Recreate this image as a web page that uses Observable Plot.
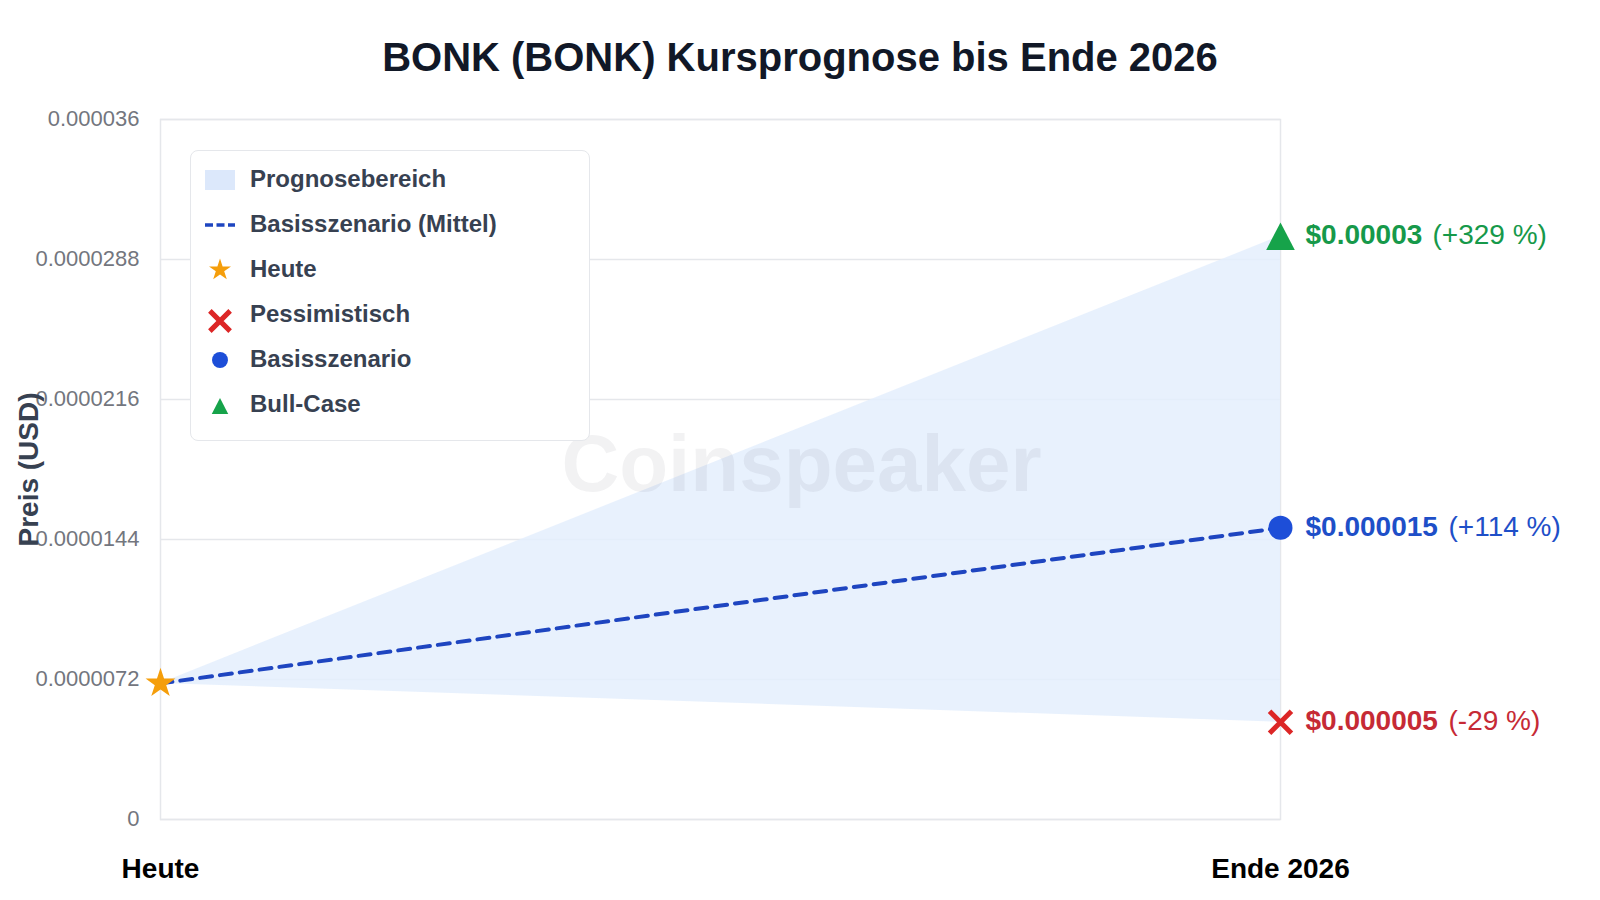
<!DOCTYPE html>
<html lang="de">
<head>
<meta charset="utf-8">
<script src="https://cdn.jsdelivr.net/npm/d3@7"></script>
<script src="https://cdn.jsdelivr.net/npm/@observablehq/plot@0.6"></script>
<style>
  html, body { margin: 0; padding: 0; background: #fff; }
  body { width: 1600px; height: 900px; position: relative; overflow: hidden; font-family: "Liberation Sans", Arial, sans-serif; }
  h1 { margin: 0; height: 100px; line-height: 114px; text-align: center; font-size: 40px; font-weight: 700; color: #111827; }
  #chart svg { display: block; overflow: visible; }
  #legend { position: absolute; left: 190px; top: 150px; width: 400px; height: 291px; box-sizing: border-box; background: #fff; border: 1.5px solid #e5e7eb; border-radius: 8px; }
  .row { position: absolute; left: 59px; font-size: 24px; font-weight: 700; color: #374151; line-height: 28px; white-space: nowrap; }
  .icon { position: absolute; }
</style>
</head>
<body>
<h1 id="title"></h1>
<div id="chart"></div>
<div id="legend"></div>
<script>
const titleText = "BONK (BONK) Kursprognose bis Ende 2026";
const yAxisTitle = "Preis (USD)";
const watermark = "Coinspeaker";
const periods = ["Heute", "Ende 2026"];
const lowValues = [0.000007, 0.000005];
const baseValues = [0.000007, 0.000015];
const highValues = [0.000007, 0.00003];
const yTicks = [0, 0.0000072, 0.0000144, 0.0000216, 0.0000288, 0.000036];
const yTickLabels = ["0", "0.0000072", "0.0000144", "0.0000216", "0.0000288", "0.000036"];
const outcomeNames = ["Pessimistisch", "Basisszenario", "Bull-Case"];
const outcomeValues = [0.000005, 0.000015, 0.00003];
const outcomePrices = ["$0.000005", "$0.000015", "$0.00003"];
const outcomeChanges = ["(-29 %)", "(+114 %)", "(+329 %)"];
const legendLabels = ["Prognosebereich", "Basisszenario (Mittel)", "Heute", "Pessimistisch", "Basisszenario", "Bull-Case"];

const colors = { line: "#1e45c0", today: "#f59e0b", bear: "#dc2626", base: "#1d4ed8", bull: "#16a34a" };
const textColors = { bear: "#c62a35", base: "#1e4fc8", bull: "#16994a" };

// Triangle centred on its bounding box, a little taller than d3's equilateral one
const boxTriangle = {
  draw(context, size) {
    const h = Math.sqrt(size / 0.96);
    const w = h * 1.04;
    context.moveTo(0, -h / 2);
    context.lineTo(w / 2, h / 2);
    context.lineTo(-w / 2, h / 2);
    context.closePath();
  }
};

const series = periods.map((period, i) => ({ period, low: lowValues[i], base: baseValues[i], high: highValues[i] }));
const outcomes = outcomeNames.map((name, i) => ({ name, period: periods[1], value: outcomeValues[i], price: outcomePrices[i], change: outcomeChanges[i] }));
const bear = outcomes[0], base = outcomes[1], bull = outcomes[2];
const today = [{ period: periods[0], value: baseValues[0] }];

document.getElementById("title").textContent = titleText;

const priceLabel = (rows, fill, dx) => [
  Plot.text(rows, { x: "period", y: "value", text: "price", fill, fontWeight: 700, fontSize: 28, textAnchor: "start", dx: 25, dy: -1 }),
  Plot.text(rows, { x: "period", y: "value", text: "change", fill, fontSize: 28, textAnchor: "start", dx, dy: -1 })
];

const chart = Plot.plot({
  width: 1600,
  height: 800,
  marginTop: 19,
  marginBottom: 81,
  marginLeft: 160,
  marginRight: 320,
  style: { fontFamily: "'Liberation Sans', Arial, sans-serif", background: "transparent", overflow: "visible" },
  x: { type: "point", domain: periods, padding: 0 },
  y: { domain: [0, 0.000036] },
  marks: [
    Plot.gridY(yTicks, { stroke: "#e5e7eb", strokeOpacity: 1, strokeWidth: 1.5 }),
    Plot.frame({ stroke: "#e5e7eb", strokeWidth: 1.5 }),
    Plot.axisY(yTicks, { tickSize: 0, tickPadding: 21, dy: -1, fontSize: 22, fill: "#73767e", label: null, tickFormat: (d, i) => yTickLabels[i] }),
    Plot.axisX({ tickSize: 0, tickPadding: 39, fontSize: 28, fontWeight: 700, fill: "#000", label: null }),
    Plot.text([yAxisTitle], { frameAnchor: "left", textAnchor: "middle", rotate: -90, dx: -131, fontSize: 28, fontWeight: 700, fill: "#374151" }),
    Plot.areaY(series, { x: "period", y1: "low", y2: "high", fill: "#e4effd", fillOpacity: 0.85 }),
    Plot.text([watermark], { frameAnchor: "middle", dx: 81, dy: -4, fontSize: 80, fontWeight: 700, fill: "#1f2937", fillOpacity: 0.06 }),
    Plot.line(series, { x: "period", y: "base", stroke: colors.line, strokeWidth: 4, strokeDasharray: "12 8" }),
    Plot.dot(today, { x: "period", y: "value", symbol: "star", r: 9.4, fill: colors.today, stroke: "none" }),
    Plot.dot([bear], { x: "period", y: "value", symbol: "times", r: 10, stroke: colors.bear, strokeWidth: 5, fill: "none" }),
    Plot.dot([base], { x: "period", y: "value", symbol: "circle", r: 12, fill: colors.base, stroke: "none" }),
    Plot.dot([bull], { x: "period", y: "value", symbol: boxTriangle, r: 15.2, fill: colors.bull, stroke: "none" }),
    ...priceLabel([bear], textColors.bear, 168),
    ...priceLabel([base], textColors.base, 168),
    ...priceLabel([bull], textColors.bull, 152)
  ]
});
document.getElementById("chart").append(chart);

// Legend: HTML box with small symbol icons
const legend = d3.select("#legend");
const rowCentres = [29, 74, 119, 164, 209, 254];
legendLabels.forEach((label, i) => {
  legend.append("div").attr("class", "row").style("top", (rowCentres[i] - 15) + "px").text(label);
});
const iconSvg = legend.append("svg").attr("class", "icon").attr("width", 60).attr("height", 289).style("left", 0).style("top", 0);
const cx = 29;
iconSvg.append("rect").attr("x", 14).attr("y", rowCentres[0] - 10).attr("width", 30).attr("height", 20).attr("fill", "#dce8fb");
iconSvg.append("line").attr("x1", 14).attr("x2", 44).attr("y1", rowCentres[1]).attr("y2", rowCentres[1]).attr("stroke", colors.line).attr("stroke-width", 3.5).attr("stroke-dasharray", "8 3.5");
const sym = (type, size, y) => iconSvg.append("path").attr("d", d3.symbol(type, size)()).attr("transform", `translate(${cx},${y})`);
sym(d3.symbolStar, 150, rowCentres[2]).attr("fill", colors.today);
sym(d3.symbolTimes, 270, rowCentres[3] + 6).attr("fill", "none").attr("stroke", colors.bear).attr("stroke-width", 5);
sym(d3.symbolCircle, 200, rowCentres[4]).attr("fill", colors.base);
sym(boxTriangle, 240, rowCentres[5] + 1).attr("fill", colors.bull);
</script>
</body>
</html>
